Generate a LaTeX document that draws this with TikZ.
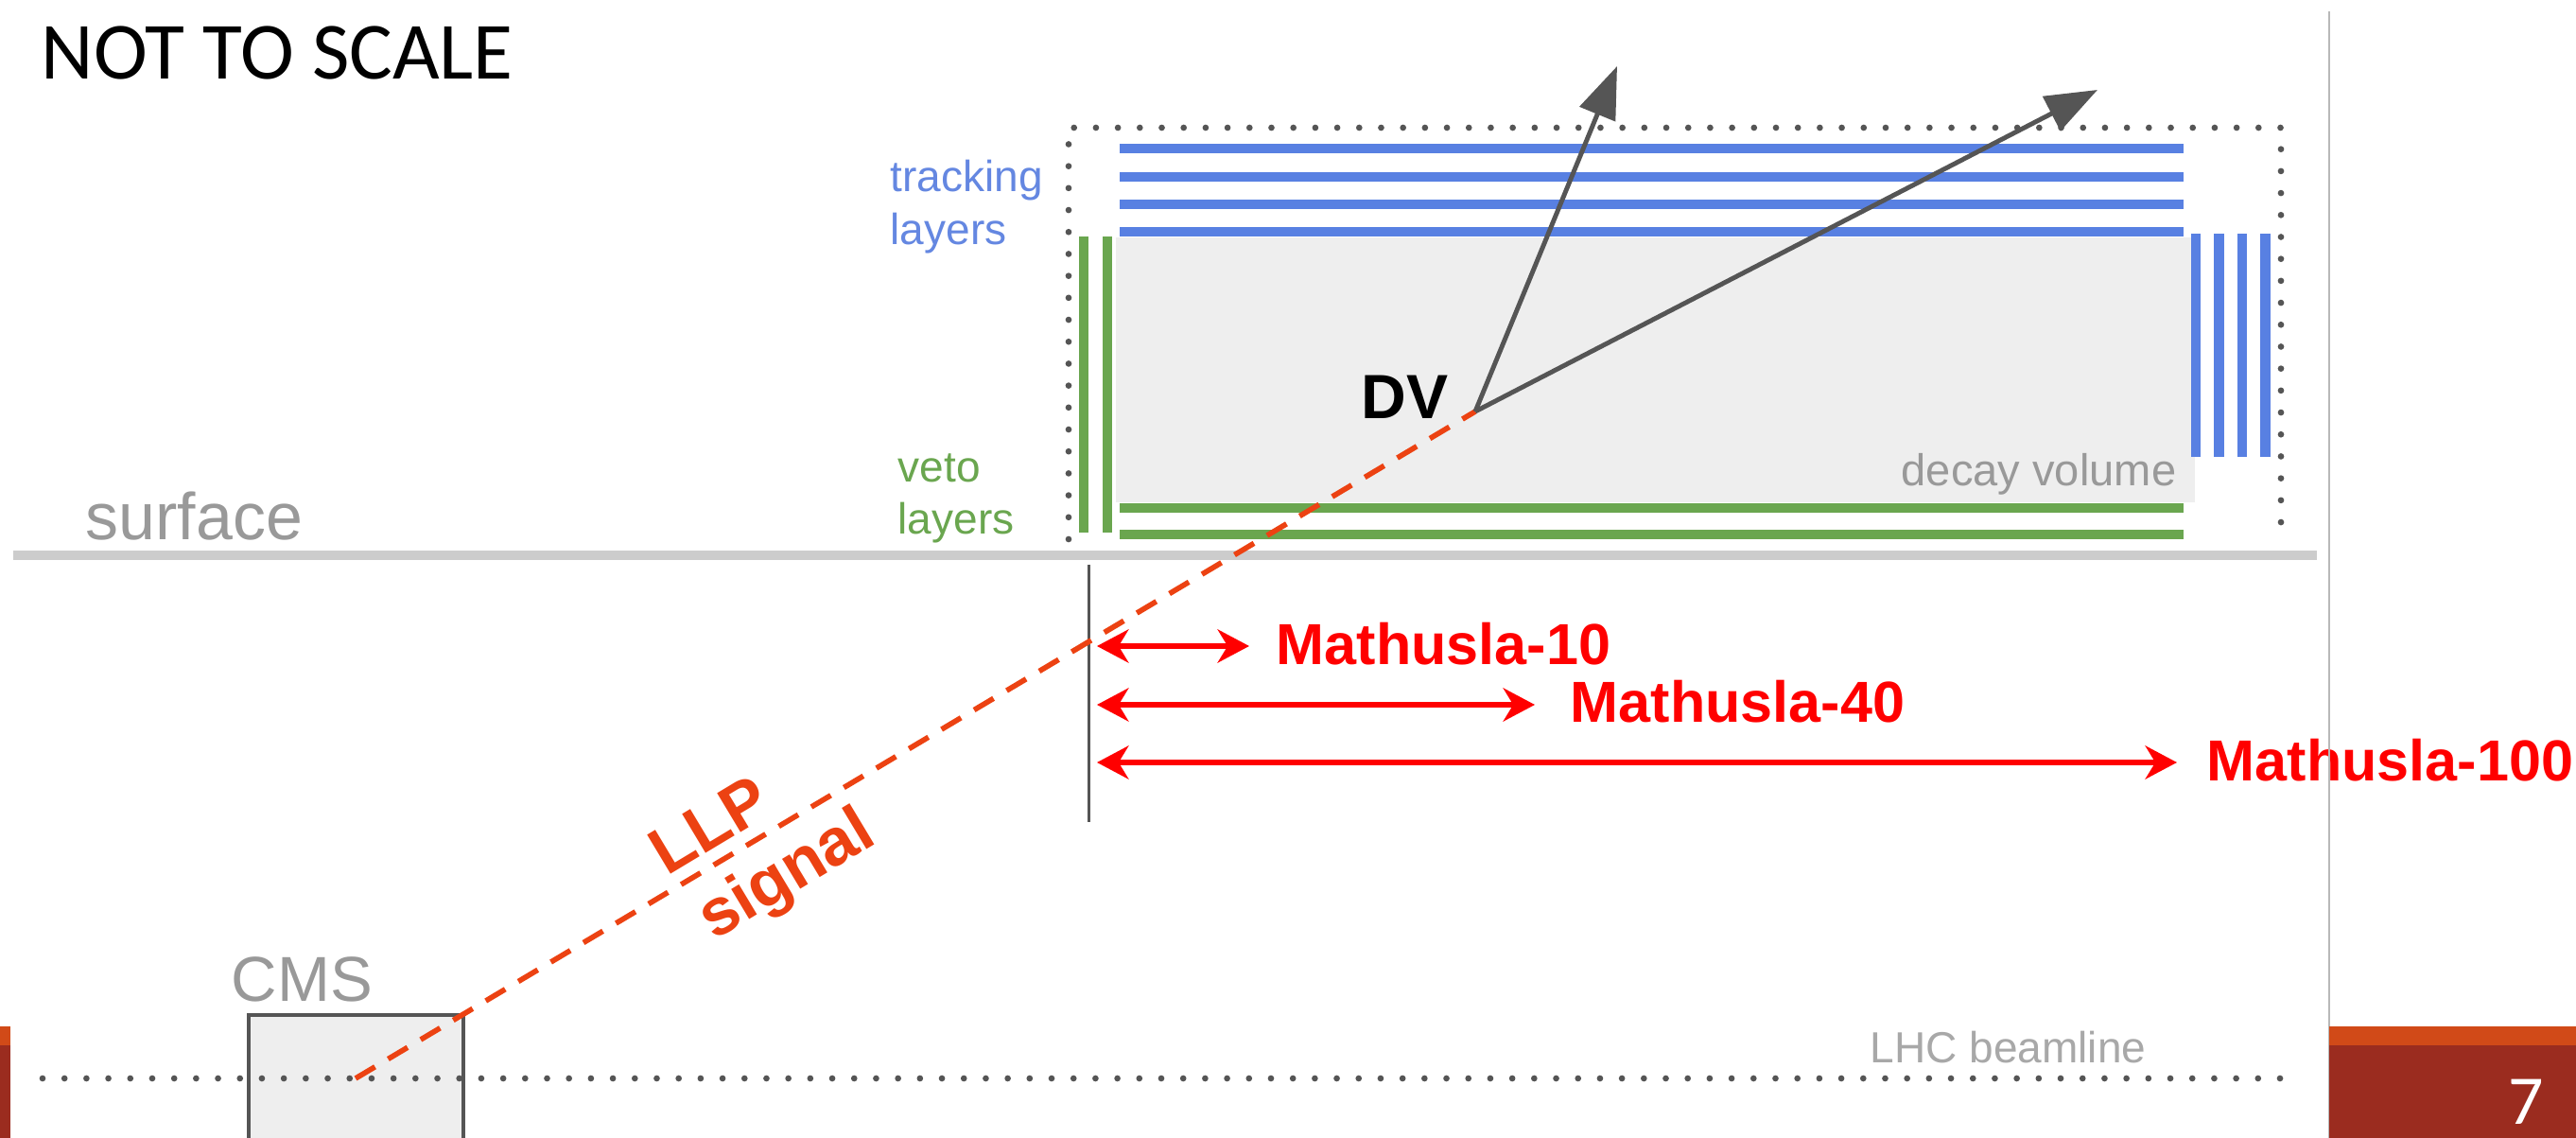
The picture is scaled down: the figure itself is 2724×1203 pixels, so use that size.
\documentclass[tikz,border=0pt]{standalone}
\usepackage{fontspec}
\setmainfont{Liberation Sans}
\newfontfamily\calib{Carlito}
\usetikzlibrary{arrows.meta}
\definecolor{trk}{RGB}{88,128,226}
\definecolor{trklbl}{RGB}{100,135,225}
\definecolor{vetoc}{RGB}{106,166,79}
\definecolor{llpc}{RGB}{236,66,18}
\definecolor{mred}{RGB}{255,0,0}
\definecolor{dgray}{RGB}{85,85,85}
\definecolor{lgray}{RGB}{153,153,153}
\definecolor{volfill}{RGB}{238,238,238}
\definecolor{surf}{RGB}{204,204,204}
\definecolor{barorange}{RGB}{209,74,24}
\definecolor{barred}{RGB}{155,44,31}
\tikzset{
  trkline/.style={draw=trk, line width=3.1pt},
  vetoline/.style={draw=vetoc, line width=2.9pt},
  dotline/.style={draw=dgray, line width=1.9pt, line cap=round, dash pattern=on 0pt off 6.6pt},
  llpline/.style={draw=llpc, line width=1.6pt, dash pattern=on 6.8pt off 4.6pt},
  trackarrow/.style={draw=dgray, line width=1.4pt, -{Triangle[length=15.6pt,width=11.4pt]}},
  sizearrow/.style={draw=mred, line width=1.5pt, {Stealth[length=9.5pt,width=10pt,inset=3pt]}-{Stealth[length=9.5pt,width=10pt,inset=3pt]}},
  lbl/.style={inner sep=0pt, anchor=base west},
  smalllbl/.style={lbl, font=\fontsize{13.1pt}{15.9pt}\selectfont},
  mlbl/.style={lbl, text=mred, font=\fontsize{17.4pt}{20pt}\selectfont\bfseries},
  llplbl/.style={inner sep=0pt, text=llpc, rotate=31, font=\fontsize{19.9pt}{22pt}\selectfont\bfseries},
}
\begin{document}
\begin{tikzpicture}[x=0.1mm, y=-0.1mm]
\useasboundingbox (0,0) rectangle (2724,1203);
\clip (0,0) rectangle (2724,1203);

% decay volume
\fill[volfill] (1180,251) rectangle (2321,531);
\node[lbl, text=lgray, font=\fontsize{13.4pt}{16pt}\selectfont] (dvol) at (2010,514) {decay volume};

% tracking layers
\foreach \y in {157,187,216,245} \draw[trkline] (1184,\y) -- (2309,\y);
\foreach \x in {2322,2346.5,2371,2395.5} \draw[trkline] (\x,247) -- (\x,483);
% veto layers
\foreach \y in {537,565} \draw[vetoline] (1184,\y) -- (2309,\y);
\foreach \x in {1146,1171} \draw[vetoline] (\x,250) -- (\x,563);

% dotted outline
\draw[dotline] (1130,570) -- (1130,135) -- (2412,135) -- (2412,570);

% surface
\draw[draw=surf, line width=2.9pt] (14,587) -- (2450,587);
\node[lbl, text=lgray, font=\fontsize{19.9pt}{22pt}\selectfont] (surface) at (90,571) {surface};

% reference line
\draw[dgray, line width=0.85pt] (1151,597) -- (1151,869);

% CMS
\node[draw=dgray, fill=volfill, line width=1.15pt, minimum width=22.7mm, minimum height=17.7mm, inner sep=0pt] (cms) at (376.5,1161.5) {};
\node[lbl, text=lgray, font=\fontsize{19.1pt}{22pt}\selectfont] (cmslbl) at (244,1058) {CMS};
\draw[dotline] (45,1140) -- (2416,1140);
\node[lbl, text=lgray!85, font=\fontsize{13.1pt}{16pt}\selectfont] (lhc) at (1977,1123) {LHC beamline};

% LLP
\coordinate (ip) at (376,1140);
\coordinate (dv) at (1560,435);
\draw[llpline] (ip) -- (dv);
\node[llplbl] (llp) at (750,872) {LLP};
\node[llplbl] (sig) at (833,927) {signal};

% decay products
\coordinate (t1) at (1710,70);
\coordinate (t2) at (2218,95);
\draw[trackarrow] (dv) -- (t1);
\draw[trackarrow] (dv) -- (t2);
\node[lbl, font=\fontsize{18.8pt}{22pt}\selectfont\bfseries] (dvlbl) at (1439,443) {DV};

% labels for layers
\node[smalllbl, text=trklbl] (trklab1) at (941,203) {tracking};
\node[smalllbl, text=trklbl] (trklab2) at (941,259) {layers};
\node[smalllbl, text=vetoc] (vetolab1) at (949,510) {veto};
\node[smalllbl, text=vetoc] (vetolab2) at (949,565) {layers};

% Mathusla sizes
\coordinate (a10) at (1160,683); \coordinate (b10) at (1321,683);
\coordinate (a40) at (1160,745); \coordinate (b40) at (1623,745);
\coordinate (a100) at (1160,806); \coordinate (b100) at (2302,806);
\draw[sizearrow] (a10) -- (b10);
\draw[sizearrow] (a40) -- (b40);
\draw[sizearrow] (a100) -- (b100);
\node[mlbl] (m10) at (1349,703) {Mathusla-10};
\node[mlbl] (m40) at (1660,764) {Mathusla-40};
\node[mlbl] (m100) at (2333,826) {Mathusla-100};

% title
\node[lbl, font=\calib\fontsize{24.4pt}{27pt}\selectfont] (title) at (43,84) {NOT TO SCALE};

% slide decorations
\draw[draw=surf!90!black, line width=0.6pt] (2463,12) -- (2463,1203);
\fill[barorange] (0,1085) rectangle (11,1105);
\fill[barred] (0,1105) rectangle (11,1203);
\fill[barorange] (2463,1085) rectangle (2724,1105);
\fill[barred] (2463,1105) rectangle (2724,1203);
\node[lbl, text=white, font=\calib\fontsize{21pt}{24pt}\selectfont] (pnum) at (2652,1188) {7};
\end{tikzpicture}
\end{document}
